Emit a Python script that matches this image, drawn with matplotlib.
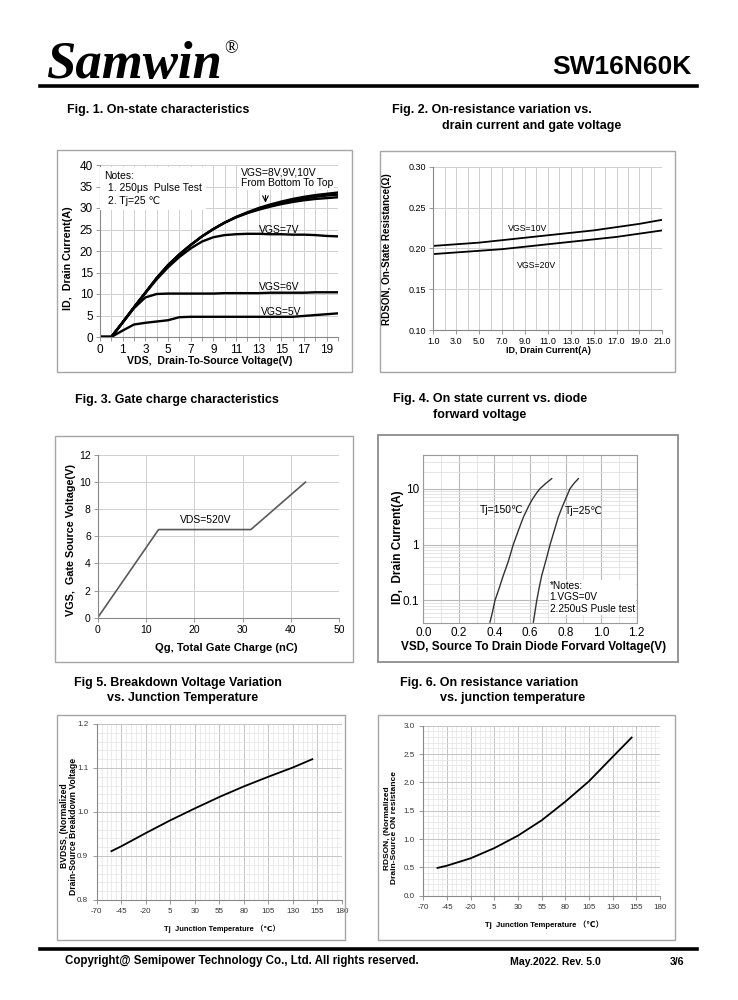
import numpy as np
import matplotlib
matplotlib.use('Agg')
import matplotlib.pyplot as plt
from matplotlib.patches import Rectangle
from matplotlib.lines import Line2D
from matplotlib.ticker import MultipleLocator, FixedLocator, NullFormatter, FormatStrFormatter

SANS = ['Liberation Sans', 'DejaVu Sans', 'Noto Sans CJK SC']
SERIF = ['Liberation Serif', 'DejaVu Serif']
plt.rcParams['font.family'] = SANS
plt.rcParams['axes.unicode_minus'] = False

# ---------------- Fig.1 data (on-state characteristics) ----------------
vds = [0, 0.5, 1, 2, 3, 4, 5, 6, 7, 8, 9, 10, 11, 12, 13, 14, 15, 16, 17, 18, 19, 20]
id_vgs10 = [0, 0, 3.4, 6.9, 10.3, 13.7, 16.7, 19.2, 21.4, 23.4, 25.1, 26.6, 27.9, 29.0, 30.0, 30.8, 31.5, 32.1, 32.6, 33.0, 33.3, 33.6]
id_vgs9 = [0, 0, 3.4, 6.9, 10.3, 13.7, 16.7, 19.2, 21.4, 23.4, 25.1, 26.6, 27.9, 28.9, 29.8, 30.6, 31.2, 31.8, 32.2, 32.6, 32.9, 33.1]
id_vgs8 = [0, 0, 3.4, 6.9, 10.3, 13.7, 16.7, 19.2, 21.4, 23.4, 25.1, 26.6, 27.8, 28.8, 29.6, 30.3, 30.9, 31.4, 31.8, 32.1, 32.3, 32.5]
id_vgs7 = [0, 0, 3.4, 6.9, 10.2, 13.4, 16.2, 18.6, 20.6, 22.2, 23.2, 23.7, 23.9, 24.0, 24.0, 23.9, 23.9, 23.8, 23.8, 23.7, 23.5, 23.4]
id_vgs6 = [0, 0, 3.4, 6.7, 9.2, 10.0, 10.1, 10.1, 10.1, 10.1, 10.1, 10.2, 10.2, 10.2, 10.2, 10.3, 10.3, 10.3, 10.3, 10.4, 10.4, 10.4]
id_vgs5 = [0, 0, 1.5, 2.9, 3.3, 3.6, 3.9, 4.6, 4.7, 4.7, 4.7, 4.7, 4.7, 4.7, 4.7, 4.7, 4.7, 4.7, 4.9, 5.1, 5.3, 5.5]
fig1_xticks = [0, 1, 3, 5, 7, 9, 11, 13, 15, 17, 19]

# ---------------- Fig.2 data (RDSON vs ID) ----------------
id_drain = [1, 3, 5, 7, 9, 11, 13, 15, 17, 19, 21]
rds_vgs10 = [0.203, 0.205, 0.207, 0.210, 0.213, 0.216, 0.219, 0.222, 0.226, 0.230, 0.235]
rds_vgs20 = [0.193, 0.195, 0.197, 0.199, 0.202, 0.205, 0.208, 0.211, 0.214, 0.218, 0.222]

# ---------------- Fig.3 data (gate charge) ----------------
qg = [0, 12.6, 31.7, 43.0]
vgs = [0, 6.5, 6.5, 10.0]

# ---------------- Fig.4 data (diode forward) ----------------
vsd_150 = [0.375, 0.388, 0.403, 0.425, 0.450, 0.478, 0.506, 0.535, 0.563, 0.590, 0.610, 0.635, 0.656, 0.690, 0.722]
isd_150 = [0.041, 0.06, 0.1, 0.16, 0.28, 0.5, 1.0, 1.8, 3.1, 4.7, 6.2, 8.2, 10.0, 12.5, 15.1]
vsd_25 = [0.619, 0.627, 0.638, 0.650, 0.666, 0.688, 0.713, 0.737, 0.759, 0.780, 0.797, 0.812, 0.825, 0.848, 0.872]
isd_25 = [0.041, 0.06, 0.1, 0.16, 0.28, 0.5, 1.0, 1.8, 3.1, 4.6, 6.2, 8.0, 10.0, 12.5, 15.1]

# ---------------- Fig.5 / Fig.6 data (vs Tj) ----------------
tj = [-55, -45, -20, 5, 30, 55, 80, 105, 130, 150]
bvdss_norm = [0.911, 0.922, 0.952, 0.981, 1.008, 1.034, 1.058, 1.080, 1.101, 1.120]
rdson_norm = [0.49, 0.53, 0.66, 0.84, 1.06, 1.33, 1.66, 2.02, 2.45, 2.79]
tj_ticks = [-70, -45, -20, 5, 30, 55, 80, 105, 130, 155, 180]

W, H = 738, 1000
fig = plt.figure(figsize=(W / 100, H / 100), dpi=100)


def px_axes(x0, y0, x1, y1):
    ax = fig.add_axes([x0 / W, 1 - y1 / H, (x1 - x0) / W, (y1 - y0) / H])
    ax._pxbox = (x0, y0, x1, y1)
    return ax


def frame(x0, y0, x1, y1, color='#a6a6a6', lw=1.0):
    fig.add_artist(Rectangle((x0 / W, 1 - y1 / H), (x1 - x0) / W, (y1 - y0) / H,
                             transform=fig.transFigure, fill=False, ec=color, lw=lw))


def ftext(x, y, s, **kw):
    kw.setdefault('va', 'center')
    fig.text(x / W, 1 - y / H, s, **kw)


def labels(ax, xl, xpos, xsize, yl, ypos, ysize):
    x0, y0, x1, y1 = ax._pxbox
    ax.set_xlabel(xl, fontsize=xsize, fontweight='bold', va='center', ha='center')
    ax.xaxis.set_label_coords((xpos[0] - x0) / (x1 - x0), (y1 - xpos[1]) / (y1 - y0))
    ax.set_ylabel(yl, fontsize=ysize, fontweight='bold', va='center', ha='center', linespacing=1.0)
    ax.yaxis.set_label_coords((ypos[0] - x0) / (x1 - x0), (y1 - ypos[1]) / (y1 - y0))


def excel_style(ax):
    for s in ['top', 'right']:
        ax.spines[s].set_visible(False)
    for s in ['left', 'bottom']:
        ax.spines[s].set_color('#888888')
        ax.spines[s].set_linewidth(0.8)
    ax.tick_params(which='both', direction='out', length=3, width=0.6, color='#888888')
    ax.set_axisbelow(True)


# ---------------- header / footer ----------------
ftext(46, 78, 'Samwin', family=SERIF, fontsize=38, fontweight='bold', style='italic', va='baseline')
ftext(224, 49, '®', family=SERIF, fontsize=13)
ftext(691, 67, 'SW16N60K', fontsize=19, fontweight='bold', ha='right')
fig.add_artist(Line2D([40 / W, 697 / W], [1 - 85.5 / H] * 2, lw=2.6, color='black'))
fig.add_artist(Line2D([40 / W, 697 / W], [1 - 948.5 / H] * 2, lw=2.6, color='black'))
ftext(65, 961, 'Copyright@ Semipower Technology Co., Ltd. All rights reserved.', fontsize=8.3, fontweight='bold')
ftext(510, 962, 'May.2022. Rev. 5.0', fontsize=7.6, fontweight='bold')
ftext(670, 962, '3/6', fontsize=7.6, fontweight='bold')

TS = 9
ftext(67, 110, 'Fig. 1. On-state characteristics', fontsize=TS, fontweight='bold')
ftext(392, 110, 'Fig. 2. On-resistance variation vs.', fontsize=TS, fontweight='bold')
ftext(442, 126, 'drain current and gate voltage', fontsize=TS, fontweight='bold')
ftext(75, 400, 'Fig. 3. Gate charge characteristics', fontsize=TS, fontweight='bold')
ftext(393, 399, 'Fig. 4. On state current vs. diode', fontsize=TS, fontweight='bold')
ftext(433, 415, 'forward voltage', fontsize=TS, fontweight='bold')
ftext(74, 683, 'Fig 5. Breakdown Voltage Variation', fontsize=TS, fontweight='bold')
ftext(107, 698, 'vs. Junction Temperature', fontsize=TS, fontweight='bold')
ftext(400, 683, 'Fig. 6. On resistance variation', fontsize=TS, fontweight='bold')
ftext(440, 698, 'vs. junction temperature', fontsize=TS, fontweight='bold')

# ---------------- Fig.1 ----------------
frame(57, 150, 352, 372)
ax1 = px_axes(100, 165, 338, 337)
excel_style(ax1)


def f1_fwd(v):
    v = np.asarray(v, dtype=float)
    return np.where(v <= 1, 2 * v, v + 1)


def f1_inv(i):
    i = np.asarray(i, dtype=float)
    return np.where(i <= 2, i / 2, i - 1)


ax1.set_xscale('function', functions=(f1_fwd, f1_inv))
ax1.set_xlim(0, 20)
ax1.set_ylim(0, 40)
ax1.set_xticks(fig1_xticks)
ax1.set_xticklabels([str(v) for v in fig1_xticks])
ax1.xaxis.set_minor_locator(FixedLocator(vds))
ax1.xaxis.set_minor_formatter(NullFormatter())
ax1.yaxis.set_major_locator(MultipleLocator(5))
ax1.grid(True, which='both', axis='x', color='#d0d0d0', lw=0.7)
ax1.grid(True, which='major', axis='y', color='#d0d0d0', lw=0.7)
ax1.tick_params(labelsize=8.5, pad=2)
for series in [id_vgs5, id_vgs6, id_vgs7, id_vgs8, id_vgs9, id_vgs10]:
    ax1.plot(vds, series, color='black', lw=1.7, solid_joinstyle='round')
ax1.text(0.2, 38.6, 'Notes:\n 1. 250μs  Pulse Test\n 2. Tj=25 ℃', fontsize=7.5, va='top', ha='left',
         linespacing=1.3, bbox=dict(fc='white', ec='none', pad=3))
ax1.text(11.4, 39.5, 'VGS=8V,9V,10V\nFrom Bottom To Top', fontsize=7.5, va='top', ha='left',
         linespacing=1.15, bbox=dict(fc='white', ec='none', pad=1))
ax1.annotate('', xy=(13.6, 30.6), xytext=(13.6, 33.6),
             arrowprops=dict(arrowstyle='->', color='black', lw=0.8))
ax1.text(13.0, 24.9, 'VGS=7V', fontsize=7.5, va='center', ha='left')
ax1.text(13.0, 11.6, 'VGS=6V', fontsize=7.5, va='center', ha='left')
ax1.text(13.2, 5.9, 'VGS=5V', fontsize=7.5, va='center', ha='left')
labels(ax1, 'VDS,  Drain-To-Source Voltage(V)', (210, 361), 7.6, 'ID,  Drain Current(A)', (68, 258), 7.7)

# ---------------- Fig.2 ----------------
frame(380, 151, 675, 372)
ax2 = px_axes(433.3, 166.7, 662.3, 330)
excel_style(ax2)
ax2.set_xlim(1, 21)
ax2.set_ylim(0.10, 0.30)
xt2 = list(range(1, 22, 2))
ax2.set_xticks(xt2)
ax2.set_xticklabels(['%.1f' % v for v in xt2])
ax2.xaxis.set_minor_locator(MultipleLocator(1))
ax2.yaxis.set_major_locator(MultipleLocator(0.05))
ax2.yaxis.set_major_formatter(FormatStrFormatter('%.2f'))
ax2.grid(True, which='both', axis='x', color='#d0d0d0', lw=0.7)
ax2.grid(True, which='major', axis='y', color='#d0d0d0', lw=0.7)
ax2.tick_params(which='minor', length=0)
ax2.tick_params(labelsize=6.5, pad=2)
ax2.plot(id_drain, rds_vgs10, color='black', lw=1.3)
ax2.plot(id_drain, rds_vgs20, color='black', lw=1.3)
ax2.text(7.5, 0.2246, 'VGS=10V', fontsize=6.3, va='center', ha='left')
ax2.text(8.3, 0.1784, 'VGS=20V', fontsize=6.3, va='center', ha='left')
labels(ax2, 'ID, Drain Current(A)', (548, 350), 6.5, 'RDSON, On-State Resistance(Ω)', (386.7, 249), 7.1)

# ---------------- Fig.3 ----------------
frame(55, 436, 353, 662)
ax3 = px_axes(97.7, 455, 339.3, 617.7)
excel_style(ax3)
ax3.set_xlim(0, 50)
ax3.set_ylim(0, 12)
ax3.xaxis.set_major_locator(MultipleLocator(10))
ax3.yaxis.set_major_locator(MultipleLocator(2))
ax3.grid(True, color='#d0d0d0', lw=0.7)
ax3.tick_params(labelsize=7.5, pad=2)
ax3.plot(qg, vgs, color='#595959', lw=1.2)
ax3.text(17.0, 7.2, 'VDS=520V', fontsize=7.5, va='center', ha='left')
labels(ax3, 'Qg, Total Gate Charge (nC)', (226.7, 648.3), 8.0, 'VGS,  Gate Source Voltage(V)', (71.5, 540), 7.8)

# ---------------- Fig.4 ----------------
frame(378, 435, 678, 662, color='#8c8c8c', lw=1.3)
ax4 = px_axes(423.3, 455, 636.7, 622.7)
ax4.set_yscale('log')
ax4.set_xlim(0, 1.2)
ax4.set_ylim(0.04, 40)
for s in ax4.spines.values():
    s.set_color('#9a9a9a')
    s.set_linewidth(0.8)
ax4.xaxis.set_major_locator(MultipleLocator(0.2))
ax4.xaxis.set_minor_locator(MultipleLocator(0.1))
ax4.xaxis.set_major_formatter(FormatStrFormatter('%.1f'))
ax4.set_yticks([0.1, 1, 10])
ax4.set_yticklabels(['0.1', '1', '10'])
ax4.yaxis.set_minor_locator(matplotlib.ticker.LogLocator(base=10, subs=np.arange(2, 10)))
ax4.yaxis.set_minor_formatter(NullFormatter())
ax4.set_axisbelow(True)
ax4.grid(True, which='major', color='#b8b8b8', lw=0.8)
ax4.grid(True, which='minor', color='#e0e0e0', lw=0.6)
ax4.tick_params(which='both', length=0, labelsize=8.5, pad=3)
ax4.plot(vsd_150, isd_150, color='#333333', lw=1.0)
ax4.plot(vsd_25, isd_25, color='#333333', lw=1.0)
ax4.text(0.319, 4.1, 'Tj=150℃', fontsize=7.5, va='center', ha='left')
ax4.text(0.797, 3.95, 'Tj=25℃', fontsize=7.5, va='center', ha='left')
ax4.text(0.71, 0.225, '*Notes:\n1.VGS=0V\n2.250uS Pusle test', fontsize=7.3, va='top', ha='left',
         linespacing=1.2, bbox=dict(fc='white', ec='none', pad=0.5))
labels(ax4, 'VSD, Source To Drain Diode Forvard Voltage(V)', (533.3, 646.7), 8.5,
       'ID,  Drain Current(A)', (398.3, 546.7), 8.5)


# ---------------- Fig.5 / Fig.6 ----------------
def tj_axes(ax, ymaj, ymin):
    excel_style(ax)
    ax.set_xlim(-70, 180)
    ax.xaxis.set_major_locator(FixedLocator(tj_ticks))
    ax.xaxis.set_minor_locator(MultipleLocator(5))
    ax.yaxis.set_major_locator(MultipleLocator(ymaj))
    ax.yaxis.set_minor_locator(MultipleLocator(ymin))
    ax.yaxis.set_major_formatter(FormatStrFormatter('%.1f'))
    ax.grid(True, which='major', color='#c4c4c4', lw=0.7)
    ax.grid(True, which='minor', color='#e3e3e3', lw=0.5)
    ax.tick_params(which='minor', length=0)
    ax.tick_params(labelsize=5.8, pad=3, labelcolor='#333333')


frame(57, 715, 345, 940)
ax5 = px_axes(96.7, 724, 341.7, 900)
ax5.set_ylim(0.8, 1.2)
tj_axes(ax5, 0.1, 0.02)
ax5.plot(tj, bvdss_norm, color='black', lw=1.3)
labels(ax5, 'Tj  Junction Temperature （℃）', (221.7, 928.3), 5.4,
       'BVDSS, (Normalized\nDrain-Source Breakdown Voltage', (69, 826), 6.2)

frame(378, 715, 675, 940)
ax6 = px_axes(423.3, 725.7, 660, 895.7)
ax6.set_ylim(0, 3.0)
tj_axes(ax6, 0.5, 0.1)
ax6.plot(tj, rdson_norm, color='black', lw=1.3)
labels(ax6, 'Tj  Junction Temperature （℃）', (544, 925), 5.6,
       'RDSON, (Normalized\nDrain-Source ON resistance', (391, 828), 6.0)

fig.savefig('out.png', dpi=100)
